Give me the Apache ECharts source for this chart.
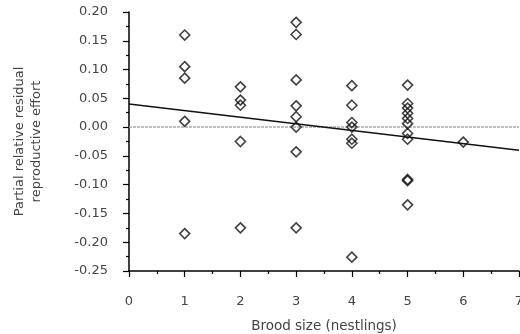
<!DOCTYPE html>
<html>
<head>
<meta charset="utf-8">
<script src="https://cdn.jsdelivr.net/npm/echarts@6/dist/echarts.min.js"></script>
<style>
  html, body { margin: 0; padding: 0; background: #fff; }
  #chart { width: 520px; height: 334px; }
</style>
</head>
<body>
<div id="chart"></div>
<script>
// brood size (x) and partial residual effort (y) for each nest
var broodSize = [
  1, 1, 1, 1, 1,
  2, 2, 2, 2, 2,
  3, 3, 3, 3, 3, 3, 3, 3,
  4, 4, 4, 4, 4, 4, 4,
  5, 5, 5, 5, 5, 5, 5, 5, 5, 5, 5,
  6
];
var residualEffort = [
  0.16, 0.105, 0.085, 0.01, -0.185,
  0.07, 0.047, 0.038, -0.025, -0.175,
  0.182, 0.161, 0.082, 0.037, 0.018, 0.0, -0.043, -0.175,
  0.072, 0.038, 0.008, 0.0, -0.021, -0.028, -0.226,
  0.073, 0.041, 0.033, 0.024, 0.015, 0.006, -0.011, -0.021, -0.091, -0.093, -0.135,
  -0.026
];
// fitted regression line end points
var fitX = [0, 7];
var fitY = [0.04, -0.04];
// reference zero line
var zeroX = [0, 7];
var zeroY = [0, 0];

var xTicks = { min: 0, max: 7, step: 1 };
var yTicks = { min: -0.25, max: 0.20, step: 0.05 };

function pairs(xs, ys) {
  return xs.map(function (x, i) { return [x, ys[i]]; });
}

var font = 'DejaVu Sans';
var textCol = '#444';

var option = {
  animation: false,
  backgroundColor: '#fff',
  grid: { left: 129, right: 1, top: 12, bottom: 63, outerBoundsMode: 'none' },
  xAxis: {
    type: 'value',
    min: xTicks.min, max: xTicks.max, interval: xTicks.step,
    name: 'Brood size (nestlings)',
    nameLocation: 'middle',
    nameGap: 48,
    nameTextStyle: { color: textCol, fontFamily: font, fontSize: 13.5 },
    axisLine: { show: true, onZero: false, lineStyle: { color: '#000', width: 1.5 } },
    axisTick: { show: true, length: 6, lineStyle: { color: '#000', width: 1.2 } },
    minorTick: { show: true, splitNumber: 2, length: 3, lineStyle: { color: '#000', width: 1.2 } },
    axisLabel: { color: textCol, fontFamily: font, fontSize: 13, margin: 24 },
    splitLine: { show: false }
  },
  yAxis: {
    type: 'value',
    min: yTicks.min, max: yTicks.max, interval: yTicks.step,
    name: 'Partial relative residual\nreproductive effort',
    nameLocation: 'middle',
    nameGap: 84,
    nameTextStyle: { color: textCol, fontFamily: font, fontSize: 13, lineHeight: 17 },
    axisLine: { show: true, onZero: false, lineStyle: { color: '#000', width: 1.5 } },
    axisTick: { show: true, length: 6, lineStyle: { color: '#000', width: 1.2 } },
    minorTick: { show: true, splitNumber: 2, length: 3, lineStyle: { color: '#000', width: 1.2 } },
    axisLabel: {
      color: textCol, fontFamily: font, fontSize: 13, margin: 21,
      formatter: function (v) { return v.toFixed(2); }
    },
    splitLine: { show: false }
  },
  series: [
    {
      type: 'line',
      data: pairs(zeroX, zeroY),
      symbol: 'none',
      lineStyle: { color: '#aaa', width: 1.5, type: [3, 1] },
      z: 1
    },
    {
      type: 'line',
      data: pairs(fitX, fitY),
      symbol: 'none',
      lineStyle: { color: '#111', width: 1.5 },
      z: 3
    },
    {
      type: 'scatter',
      data: pairs(broodSize, residualEffort),
      symbol: 'diamond',
      symbolSize: 10,
      itemStyle: { color: 'rgba(255,255,255,0)', borderColor: '#111', borderWidth: 1.6 },
      z: 2
    }
  ]
};

var chart = echarts.init(document.getElementById('chart'));
chart.setOption(option);
</script>
</body>
</html>
